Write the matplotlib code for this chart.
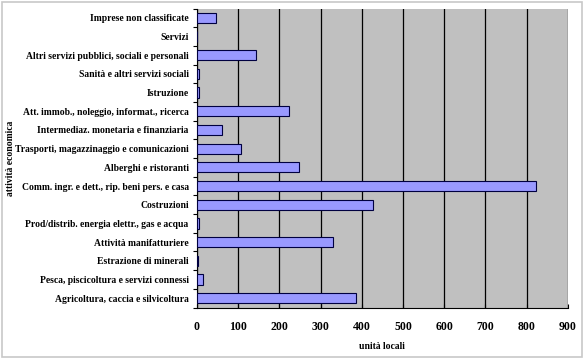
import matplotlib.pyplot as plt
from matplotlib.patches import Rectangle

categories = [
    "Agricoltura, caccia e silvicoltura",
    "Pesca, piscicoltura e servizi connessi",
    "Estrazione di minerali",
    "Attività manifatturiere",
    "Prod/distrib. energia elettr., gas e acqua",
    "Costruzioni",
    "Comm. ingr. e dett., rip. beni pers. e casa",
    "Alberghi e ristoranti",
    "Trasporti, magazzinaggio e comunicazioni",
    "Intermediaz. monetaria e finanziaria",
    "Att. immob., noleggio, informat., ricerca",
    "Istruzione",
    "Sanità e altri servizi sociali",
    "Altri servizi pubblici, sociali e personali",
    "Servizi",
    "Imprese non classificate",
]
values = [385, 14, 2, 330, 5, 427, 823, 248, 107, 61, 223, 5, 5, 143, 0, 46]
xticks = [0, 100, 200, 300, 400, 500, 600, 700, 800, 900]

plt.rcParams['font.family'] = ['Liberation Serif', 'DejaVu Serif']

fig = plt.figure(figsize=(5.84, 3.59), dpi=100)
fig.patches.append(Rectangle((0.004, 0.006), 0.992, 0.988, transform=fig.transFigure,
                             fill=False, edgecolor='#c8c8c8', linewidth=1.2))
ax = fig.add_axes([197 / 584, 1 - 307.5 / 359, 370.7 / 584, 299 / 359])
ax.set_facecolor('#c0c0c0')

y = range(len(categories))
ax.barh(y, values, height=0.55, color='#9999ff', edgecolor='#000040', linewidth=0.8, zorder=3)

ax.set_xlim(0, 900)
ax.set_ylim(-0.5, len(categories) - 0.5)
ax.set_xticks(xticks)
ax.set_xticklabels([str(t) for t in xticks], fontsize=8.5, fontweight='bold')
ax.set_yticks(list(y))
ax.set_yticklabels(categories, fontsize=6.9, fontweight='bold')
ax.set_yticks([i - 0.5 for i in range(len(categories) + 1)], minor=True)
ax.tick_params(axis='y', which='major', length=0, pad=6)
ax.tick_params(axis='y', which='minor', length=3, width=0.8, direction='out')
ax.tick_params(axis='x', length=3, width=0.8, direction='in', pad=10)
ax.grid(axis='x', color='black', linewidth=0.9, zorder=1)
for s in ['top', 'right']:
    ax.spines[s].set_visible(False)
ax.spines['left'].set_linewidth(0.8)
ax.spines['bottom'].set_linewidth(0.8)

ax.set_xlabel('unità locali', fontsize=6.9, fontweight='bold', labelpad=6)
ax.set_ylabel('attività economica', fontsize=6.9, fontweight='bold')
ax.yaxis.set_label_coords(-197 / 370.7 + 15 / 370.7, 0.5)

fig.savefig('out.png', dpi=100)
